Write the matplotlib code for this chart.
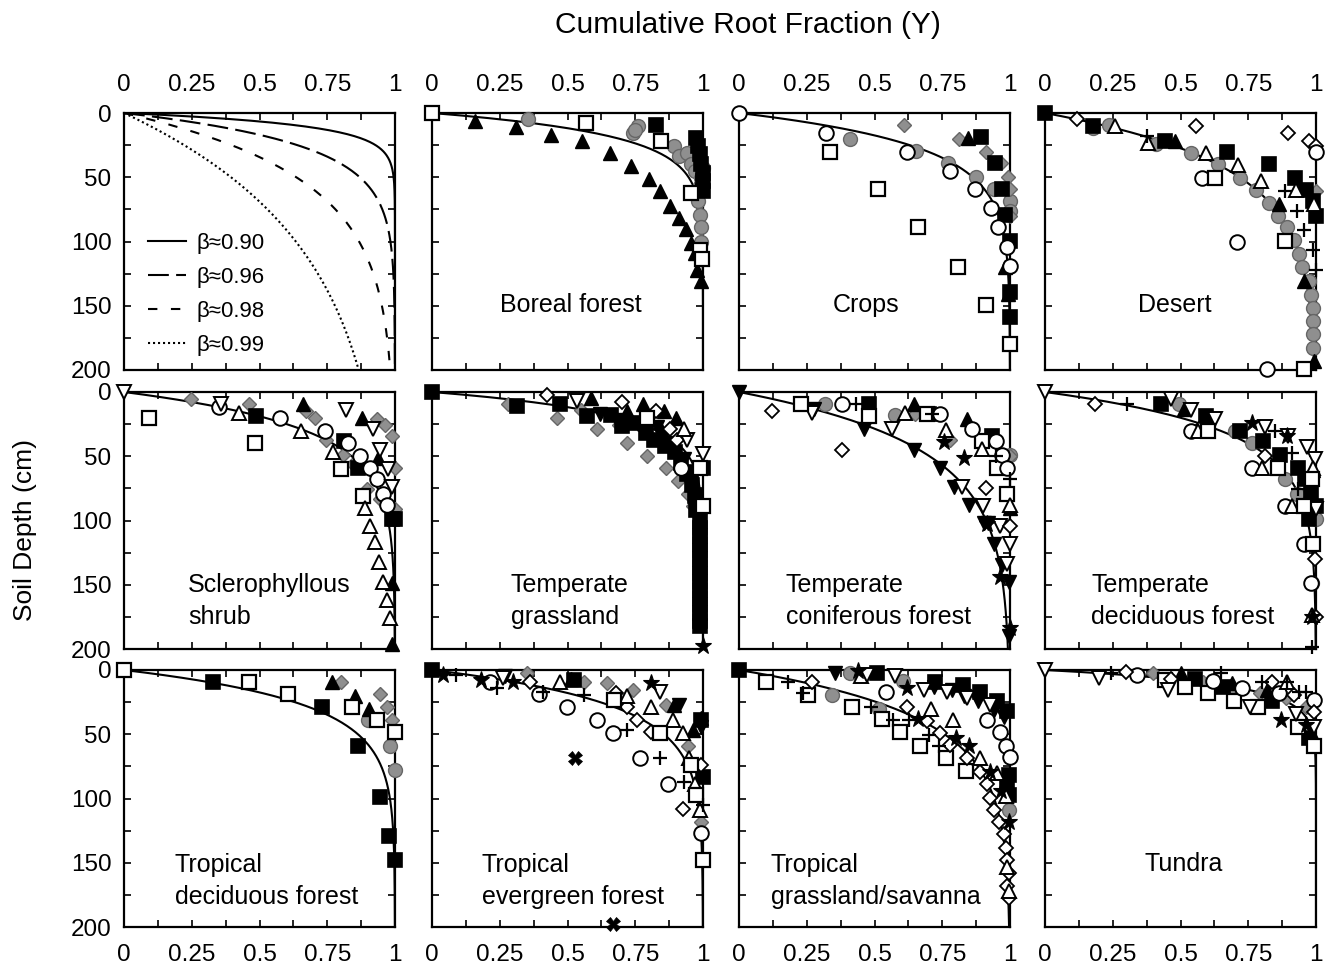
import numpy as np
import matplotlib
matplotlib.use("Agg")
import matplotlib.pyplot as plt
from matplotlib.ticker import FixedLocator, MultipleLocator, FuncFormatter

plt.rcParams['font.family'] = ['Liberation Sans', 'DejaVu Sans']

# ---- axis ticks
x_ticks = [0, 0.25, 0.5, 0.75, 1]
y_ticks = [0, 50, 100, 150, 200]

# ---- example curves (first panel)
demo_betas = [0.90, 0.96, 0.98, 0.99]
demo_labels = ['β≈0.90', 'β≈0.96', 'β≈0.98', 'β≈0.99']

# ---- biomes and fitted beta
biome_names = ['Boreal forest', 'Crops', 'Desert',
               'Sclerophyllous\nshrub', 'Temperate\ngrassland',
               'Temperate\nconiferous forest', 'Temperate\ndeciduous forest',
               'Tropical\ndeciduous forest', 'Tropical\nevergreen forest',
               'Tropical\ngrassland/savanna', 'Tundra']
biome_betas = [0.943, 0.961, 0.975, 0.964, 0.943, 0.976, 0.966,
               0.961, 0.962, 0.972, 0.914]

# ---- observed profiles: (cumulative fraction Y, depth cm)
# boreal forest
boreal_os = [(0, 0), (0.57, 8), (0.845, 22), (0.957, 62), (0.99, 107), (0.995, 114)]
boreal_ft = [(0.16, 6.5), (0.31, 11), (0.44, 17), (0.555, 21.5), (0.656, 31), (0.733, 41.5),
             (0.80, 51), (0.84, 61), (0.88, 72), (0.91, 81.5), (0.938, 90.5), (0.954, 101),
             (0.97, 109), (0.979, 122), (0.994, 131)]
boreal_fs = [(0.826, 9), (0.975, 19.5), (0.98, 26), (0.988, 32), (0.994, 40), (1.0, 46.5),
             (1.0, 53), (1.0, 61)]
boreal_gc = [(0.354, 5), (0.74, 15.5), (0.76, 10), (0.75, 13), (0.894, 26), (0.913, 33.5),
             (0.94, 31), (0.957, 40), (0.97, 45), (0.994, 50.5), (0.98, 68.5), (0.988, 79),
             (0.994, 89), (0.994, 100), (1, 43), (0.99, 57)]

# crops
crops_oc = [(0, 0), (0.32, 15.5), (0.62, 30), (0.78, 45), (0.87, 59.5), (0.93, 74),
            (0.954, 89), (0.988, 104), (1.0, 119)]
crops_os = [(0.335, 30), (0.513, 59.5), (0.662, 89), (0.807, 120), (0.913, 149.5), (1.0, 179.5)]
crops_gd = [(0.61, 9.5), (0.81, 20), (0.913, 30), (0.966, 39), (0.994, 50), (1, 59.5), (1, 80)]
crops_gc = [(0.41, 20.5), (0.652, 29.8), (0.77, 39), (0.876, 50), (0.94, 59.5), (1.0, 68.5), (1, 76)]
crops_fs = [(0.894, 19), (0.944, 39), (0.97, 59.5), (0.98, 79), (1, 99.5), (1, 139), (1, 159)]
crops_ft = [(0.845, 19.5), (0.98, 120), (0.994, 141)]

# desert
desert_fs = [(0, 0), (0.177, 10), (0.444, 22), (0.673, 30), (0.827, 40), (0.923, 50.5),
             (0.963, 60), (0.99, 68.5), (1.0, 80)]
desert_od = [(0.117, 5), (0.558, 10), (0.895, 15.5), (0.975, 21.5), (1.0, 26)]
desert_ot = [(0.26, 10), (0.38, 23), (0.593, 31.5), (0.713, 40.5), (0.796, 53), (0.926, 60), (0.994, 71)]
desert_ft = [(0.478, 22), (0.864, 71), (0.954, 131), (0.994, 193)]
desert_oc = [(0.58, 50.5), (0.71, 100), (0.818, 199.5), (1, 30)]
desert_os = [(0.627, 50.5), (0.885, 99.5), (0.954, 199.5)]
desert_cr = [(0.377, 18), (0.886, 61), (0.93, 76), (0.957, 91), (0.99, 107), (1.0, 122)]
desert_gc = [(0.177, 11.5), (0.235, 9), (0.41, 24.5), (0.54, 31), (0.64, 40), (0.72, 50.5),
             (0.778, 60), (0.827, 70), (0.86, 80), (0.893, 89), (0.92, 99), (0.938, 110),
             (0.95, 120), (0.975, 131), (0.98, 141.5), (0.988, 151.5), (0.988, 162),
             (0.99, 172), (0.99, 182.5)]
desert_gd = [(1, 61)]

# sclerophyllous shrub
scler_oi = [(0, 0), (0.358, 9.5), (0.82, 14), (0.92, 28.5), (0.945, 45), (0.975, 60), (0.988, 74)]
scler_os = [(0.093, 20.5), (0.485, 39.5), (0.80, 60), (0.883, 81)]
scler_oc = [(0.352, 11.5), (0.574, 20.5), (0.74, 30), (0.827, 39.5), (0.87, 49.5), (0.907, 59.5),
            (0.935, 68), (0.957, 79.5), (0.97, 88)]
scler_ot = [(0.426, 16), (0.654, 30), (0.77, 47), (0.889, 90.5), (0.907, 104), (0.926, 117),
            (0.94, 132), (0.957, 147.5), (0.97, 161.5), (0.98, 176)]
scler_ft = [(0.66, 9.5), (0.877, 20.5), (0.938, 51), (0.988, 148.5), (0.988, 196)]
scler_fs = [(0.488, 18.5), (0.81, 38), (0.864, 59), (0.988, 99), (1, 99)]
scler_gd = [(0.247, 5.5), (0.463, 9.5), (0.673, 15), (0.704, 20), (0.747, 37), (0.809, 49),
            (0.846, 56), (0.895, 75.5), (0.932, 21), (0.963, 26), (0.988, 34), (1, 59),
            (0.944, 83), (1, 91)]

# temperate grassland
tgrass_fs = [(0, 0), (0.312, 11), (0.473, 9), (0.572, 18.5), (0.702, 26.5), (0.82, 37),
             (0.895, 47), (0.957, 62.5), (0.969, 81), (0.66, 18), (0.74, 24), (0.79, 32),
             (0.86, 42), (0.92, 55), (0.94, 64), (0.96, 72), (0.975, 92), (1, 59),
             (0.99, 100), (0.99, 106), (0.99, 112), (0.99, 118), (0.99, 124), (0.99, 130),
             (0.99, 136), (0.99, 142), (0.99, 148), (0.99, 154), (0.99, 160), (0.99, 166),
             (0.99, 172), (0.99, 178), (0.99, 182)]
tgrass_gd = [(0.28, 9.5), (0.46, 20), (0.61, 29), (0.72, 39.5), (0.795, 49.5), (0.864, 59),
             (0.907, 69), (0.944, 79.5), (0.963, 88.5), (0.69, 26), (0.55, 14)]
tgrass_od = [(0.424, 2), (0.70, 8), (0.826, 15), (0.905, 37), (0.88, 29)]
tgrass_oi = [(0.535, 7), (1, 48.5), (0.94, 37)]
tgrass_ft = [(0.585, 5), (0.777, 9.5), (0.857, 15), (0.9, 20.5), (0.988, 88.5), (0.72, 15), (0.85, 30)]
tgrass_ot = [(0.795, 18.5), (0.991, 88.5), (0.93, 29)]
tgrass_os = [(0.795, 20.5), (0.99, 59), (1, 88.5)]
tgrass_oc = [(0.917, 59)]
tgrass_fi = [(0.684, 22), (0.62, 17), (0.83, 27), (0.93, 52), (0.76, 25), (0.88, 40), (0.95, 70)]
tgrass_st = [(1, 198)]

# temperate coniferous forest
tconif_fi = [(0, 0), (0.277, 13.5), (0.462, 29), (0.647, 45), (0.743, 59.5), (0.793, 74),
             (0.848, 88), (0.904, 102), (0.941, 118), (0.972, 135), (0.996, 148),
             (0.996, 189.5), (0.92, 102)]
tconif_oi = [(0.268, 16), (0.564, 29), (0.823, 74), (0.90, 88.5), (0.963, 104), (1, 118), (0.99, 134)]
tconif_os = [(0.227, 9.5), (0.478, 18.5), (0.694, 17), (0.898, 38), (0.953, 59), (0.99, 79)]
tconif_fs = [(0.478, 9), (0.935, 34.5), (0.70, 17)]
tconif_oc = [(0.379, 9.5), (0.743, 17), (0.86, 28.5), (0.947, 38), (0.972, 49), (0.99, 59.5)]
tconif_gc = [(0.317, 9.5), (0.576, 18), (1, 49)]
tconif_ft = [(0.644, 9.5), (0.84, 21), (1, 90.5)]
tconif_ot = [(0.613, 16), (0.762, 29.5), (0.895, 44.5), (1, 88)]
tconif_st = [(0.756, 39), (0.832, 51), (0.916, 103), (1, 184), (0.963, 144)]
tconif_od = [(0.122, 15), (0.379, 45.5), (0.91, 74.5), (1, 104.5)]
tconif_gd = [(0.65, 17.5), (0.78, 37), (1, 49.5)]
tconif_cr = [(0.43, 9.5), (0.712, 17), (1, 68), (0.95, 49.5)]

# temperate deciduous forest
tdecid_oi = [(0, 0), (0.465, 5.5), (0.54, 14), (0.626, 21), (0.81, 27.5), (0.898, 34),
             (0.967, 43), (0.998, 52), (1, 91)]
tdecid_od = [(0.186, 9.5), (0.57, 29), (0.812, 49.5), (0.998, 130), (1, 175)]
tdecid_cr = [(0.304, 9.5), (0.85, 30), (0.91, 47.5), (0.935, 75.5), (0.985, 198.5)]
tdecid_fs = [(0.428, 9.5), (0.595, 18.5), (0.72, 30), (0.805, 38), (0.867, 49), (0.935, 59),
             (0.96, 68), (0.98, 78), (1, 88.5), (0.973, 99)]
tdecid_gc = [(0.496, 9.5), (0.70, 30), (0.762, 40), (0.886, 68), (0.93, 79.5), (1, 99),
             (0.96, 118), (0.985, 148.5)]
tdecid_oc = [(0.54, 30), (0.762, 59.5), (0.886, 88.5), (0.955, 118.5), (0.98, 148.5)]
tdecid_ot = [(0.564, 30), (0.80, 59.5), (0.91, 88.5), (0.99, 59), (0.985, 173.5)]
tdecid_os = [(0.60, 30), (0.86, 59.5), (0.955, 88.5), (0.99, 118.5), (0.985, 68)]
tdecid_st = [(0.762, 24), (0.892, 34.5), (0.985, 175)]
tdecid_ft = [(0.99, 60.5), (0.514, 13.5)]

# tropical deciduous forest
trdec_os = [(0, 0), (0.462, 9), (0.605, 18.5), (0.84, 29), (0.935, 39), (1, 48.5)]
trdec_fs = [(0.329, 9), (0.729, 29), (0.863, 59), (0.944, 98.5), (0.978, 129), (1, 147.5)]
trdec_ft = [(0.766, 9.5), (0.851, 20), (0.903, 30)]
trdec_gd = [(0.80, 9.5), (0.944, 19), (0.972, 28.5), (0.988, 39)]
trdec_gc = [(0.90, 39), (0.98, 59), (1, 78)]

# tropical evergreen forest
trev_fs = [(0, 0), (0.523, 8), (0.994, 39), (1, 83)]
trev_st = [(0.04, 4), (0.182, 8), (0.30, 9), (0.808, 10.5)]
trev_oc = [(0.213, 9), (0.393, 19), (0.498, 28.5), (0.61, 39), (0.669, 49), (0.768, 68.5),
           (0.87, 89), (0.994, 127)]
trev_cr = [(0.09, 4), (0.24, 14), (0.411, 17), (0.56, 19.5), (0.72, 46.5), (0.84, 68.5),
           (0.93, 87), (1, 105)]
trev_oi = [(0.263, 6.5), (0.84, 17)]
trev_fi = [(0.27, 5), (0.994, 44), (0.91, 27)]
trev_od = [(0.362, 9.5), (0.678, 18), (0.718, 29), (0.756, 39), (0.808, 48.5), (0.925, 108), (0.994, 74)]
trev_gd = [(0.35, 2.5), (0.56, 9), (0.644, 10.5), (0.74, 15.5), (0.864, 27), (0.944, 59), (0.994, 118)]
trev_ot = [(0.473, 9.5), (0.72, 20), (0.808, 29), (0.888, 39), (0.925, 49), (0.95, 68.5),
           (0.969, 89), (0.988, 109)]
trev_os = [(0.672, 23), (0.84, 49), (0.957, 74), (0.975, 97), (1, 147.5)]
trev_ft = [(0.514, 7), (0.894, 27.5), (0.963, 46.5), (0.994, 37.5)]
trev_xx = [(0.529, 68.5), (0.669, 198)]

# tropical grassland / savanna
trgr_fs = [(0, 0), (0.509, 2), (0.725, 9), (0.827, 11.5), (0.889, 17), (0.953, 24.5), (0.99, 32),
           (0.996, 81.5), (0.996, 97), (0.99, 90)]
trgr_os = [(0.098, 9), (0.256, 19.5), (0.416, 28.5), (0.527, 38.5), (0.595, 48.5), (0.667, 59),
           (0.762, 68.5), (0.836, 78.5)]
trgr_cr = [(0.181, 9), (0.237, 18), (0.486, 28.5), (0.57, 39), (0.626, 39), (0.737, 59), (0.70, 50.5)]
trgr_od = [(0.268, 9), (0.62, 28.5), (0.694, 40), (0.743, 49), (0.78, 58), (0.842, 68.5), (0.891, 79),
           (0.916, 89), (0.928, 99.5), (0.94, 109), (0.959, 118), (0.978, 128), (0.984, 138.5),
           (0.99, 147.5), (0.996, 158), (0.99, 168), (0.996, 177.5)]
trgr_ot = [(0.79, 39), (0.709, 30), (0.891, 68.5), (0.953, 80), (0.984, 98), (0.99, 153),
           (0.996, 172), (0.45, 5)]
trgr_st = [(0.662, 38), (0.80, 53), (0.848, 59), (0.928, 79), (0.965, 94.5), (0.996, 118),
           (0.62, 14), (0.44, 1)]
trgr_oi = [(0.472, 4), (0.577, 4.5), (0.681, 15.5), (0.768, 17), (0.842, 21.5), (0.928, 27)]
trgr_fi = [(0.354, 2.5), (0.719, 13), (0.786, 15.5), (0.83, 20), (0.883, 24.5), (0.94, 31), (0.978, 36.5)]
trgr_oc = [(0.543, 17.5), (0.916, 39), (0.963, 48), (0.985, 59), (1, 68)]
trgr_gc = [(0.41, 2.5), (0.607, 8.5), (0.515, 30), (0.342, 19.5), (0.996, 109)]

# tundra
tund_oi = [(0, 0), (0.20, 6.5), (0.453, 15.5), (0.758, 28.5), (0.925, 34.5), (0.994, 44)]
tund_cr = [(0.242, 2), (0.65, 2), (0.80, 9), (0.894, 9), (0.938, 17), (0.963, 17)]
tund_od = [(0.298, 1.5), (0.838, 9), (0.92, 19.5), (0.994, 32.5), (0.466, 7)]
tund_oc = [(0.339, 4), (0.621, 8.5), (0.727, 14), (0.863, 18), (0.994, 23.5)]
tund_gd = [(0.397, 2.5), (0.584, 9), (0.683, 15.5), (0.795, 18), (0.888, 22), (0.963, 28.5)]
tund_os = [(0.441, 8), (0.516, 13.5), (0.60, 18), (0.696, 24), (0.786, 29), (0.932, 44), (0.994, 59)]
tund_fs = [(0.553, 7), (0.658, 13), (0.839, 24.5), (0.975, 53)]
tund_ft = [(0.503, 2.5), (0.69, 10.5), (0.82, 15.5), (0.98, 48)]
tund_st = [(0.87, 39), (0.963, 42.5)]
tund_ot = [(0.894, 9)]

panel_series = [
    [('gc', boreal_gc), ('fs', boreal_fs), ('ft', boreal_ft), ('os', boreal_os)],
    [('gc', crops_gc), ('gd', crops_gd), ('fs', crops_fs), ('ft', crops_ft), ('os', crops_os), ('oc', crops_oc)],
    [('gc', desert_gc), ('gd', desert_gd), ('fs', desert_fs), ('ft', desert_ft), ('od', desert_od),
     ('ot', desert_ot), ('oc', desert_oc), ('os', desert_os), ('cr', desert_cr)],
    [('gd', scler_gd), ('fs', scler_fs), ('ft', scler_ft), ('os', scler_os), ('oc', scler_oc),
     ('ot', scler_ot), ('oi', scler_oi)],
    [('gd', tgrass_gd), ('fs', tgrass_fs), ('ft', tgrass_ft), ('fi', tgrass_fi), ('od', tgrass_od),
     ('oi', tgrass_oi), ('ot', tgrass_ot), ('os', tgrass_os), ('oc', tgrass_oc), ('st', tgrass_st)],
    [('gc', tconif_gc), ('gd', tconif_gd), ('fi', tconif_fi), ('fs', tconif_fs), ('ft', tconif_ft),
     ('oi', tconif_oi), ('os', tconif_os), ('oc', tconif_oc), ('ot', tconif_ot), ('od', tconif_od),
     ('st', tconif_st), ('cr', tconif_cr)],
    [('gc', tdecid_gc), ('fs', tdecid_fs), ('ft', tdecid_ft), ('oi', tdecid_oi), ('od', tdecid_od),
     ('oc', tdecid_oc), ('ot', tdecid_ot), ('os', tdecid_os), ('st', tdecid_st), ('cr', tdecid_cr)],
    [('gc', trdec_gc), ('gd', trdec_gd), ('ft', trdec_ft), ('fs', trdec_fs), ('os', trdec_os)],
    [('gd', trev_gd), ('fs', trev_fs), ('ft', trev_ft), ('fi', trev_fi), ('oc', trev_oc), ('od', trev_od),
     ('ot', trev_ot), ('os', trev_os), ('oi', trev_oi), ('st', trev_st), ('cr', trev_cr), ('xx', trev_xx)],
    [('gc', trgr_gc), ('fs', trgr_fs), ('fi', trgr_fi), ('os', trgr_os), ('od', trgr_od), ('ot', trgr_ot),
     ('oi', trgr_oi), ('oc', trgr_oc), ('st', trgr_st), ('cr', trgr_cr)],
    [('gd', tund_gd), ('fs', tund_fs), ('ft', tund_ft), ('os', tund_os), ('oc', tund_oc), ('od', tund_od),
     ('oi', tund_oi), ('ot', tund_ot), ('st', tund_st), ('cr', tund_cr)],
]

GREY = '#8f8f8f'
STYLES = {
    'fs': dict(marker='s', ms=9.5, mfc='black', mec='black', mew=1.2),
    'os': dict(marker='s', ms=10, mfc='white', mec='black', mew=1.6),
    'ft': dict(marker='^', ms=10.5, mfc='black', mec='black', mew=1.0),
    'ot': dict(marker='^', ms=10.5, mfc='white', mec='black', mew=1.4),
    'fi': dict(marker='v', ms=10.5, mfc='black', mec='black', mew=1.0),
    'oi': dict(marker='v', ms=10.5, mfc='white', mec='black', mew=1.4),
    'oc': dict(marker='o', ms=10.5, mfc='white', mec='black', mew=1.4),
    'gc': dict(marker='o', ms=10, mfc=GREY, mec='#666666', mew=1.0),
    'gd': dict(marker='D', ms=7, mfc=GREY, mec='#666666', mew=1.0),
    'od': dict(marker='D', ms=7.5, mfc='white', mec='black', mew=1.3),
    'st': dict(marker='*', ms=12.5, mfc='black', mec='black', mew=0.8),
    'cr': dict(marker='+', ms=10, mfc='black', mec='black', mew=1.6),
    'xx': dict(marker='X', ms=10, mfc='black', mec='black', mew=0.5),
}

# label placement per panel (axes fraction x, y from top, ha)
label_pos = [(0.513, 0.747, 'center'), (0.47, 0.747, 'center'), (0.48, 0.747, 'center'),
             (0.236, 0.813, 'left'), (0.29, 0.813, 'left'), (0.173, 0.813, 'left'),
             (0.17, 0.813, 'left'), (0.188, 0.821, 'left'), (0.184, 0.821, 'left'),
             (0.118, 0.821, 'left'), (0.513, 0.755, 'center')]

fig = plt.figure(figsize=(13.27, 9.69), dpi=100)
col_left = [124, 432, 739, 1045]
row_top = [113, 392, 670]
W, H = 271, 257
depth = np.linspace(0, 200, 401)


def style_axes(ax, row, col):
    ax.set_xlim(0, 1)
    ax.set_ylim(200, 0)
    ax.xaxis.set_major_locator(FixedLocator(x_ticks))
    ax.xaxis.set_minor_locator(MultipleLocator(0.125))
    ax.yaxis.set_major_locator(FixedLocator(y_ticks))
    ax.yaxis.set_minor_locator(MultipleLocator(25))
    ax.xaxis.set_major_formatter(FuncFormatter(lambda v, p: f"{v:g}"))
    ax.tick_params(which='both', direction='in', top=True, right=True, bottom=True, left=True,
                   length=5, width=1.2, labelsize=17.5,
                   labeltop=(row == 0), labelbottom=(row == 2), labelleft=(col == 0),
                   labelright=False)
    ax.tick_params(axis='x', pad=12)
    ax.tick_params(axis='y', pad=9)
    for s in ax.spines.values():
        s.set_linewidth(1.6)


axes = []
for r in range(3):
    for c in range(4):
        ax = fig.add_axes([col_left[c] / 1327, 1 - (row_top[r] + H) / 969, W / 1327, H / 969])
        style_axes(ax, r, c)
        axes.append(ax)

# first panel: example curves
dash_styles = ['-', (0, (10, 3.5)), (0, (4.5, 6.5)), (0, (1, 1.4))]
ax0 = axes[0]
handles = []
for b, ls, lab in zip(demo_betas, dash_styles, demo_labels):
    h, = ax0.plot(1 - b ** depth, depth, color='black', lw=1.5, ls=ls, label=lab)
    handles.append(h)
ax0.legend(handles=handles, loc='center left', bbox_to_anchor=(0.09, 0.295), frameon=False,
           prop={'family': ['Liberation Sans', 'DejaVu Sans'], 'size': 16},
           handlelength=1.7, handletextpad=0.45, labelspacing=0.58,
           borderpad=0, borderaxespad=0)

# biome panels
for i, ax in enumerate(axes[1:]):
    ax.plot(1 - biome_betas[i] ** depth, depth, color='black', lw=1.5, zorder=2)
    for code, pts in panel_series[i]:
        ys = [p[0] for p in pts]
        ds = [p[1] for p in pts]
        ax.plot(ys, ds, ls='none', clip_on=False, zorder=3, **STYLES[code])
    lx, ly, ha = label_pos[i]
    ax.text(lx, 1 - ly, biome_names[i], transform=ax.transAxes, ha=ha, va='center',
            fontsize=18, linespacing=1.45, zorder=5)

fig.text(748 / 1327, 1 - 25 / 969, 'Cumulative Root Fraction (Y)', ha='center', va='center',
         fontsize=21.5)
fig.text(25 / 1327, 1 - 530 / 969, 'Soil Depth (cm)', ha='center', va='center',
         rotation=90, fontsize=19)

fig.savefig('out.png', dpi=100, facecolor='white')
